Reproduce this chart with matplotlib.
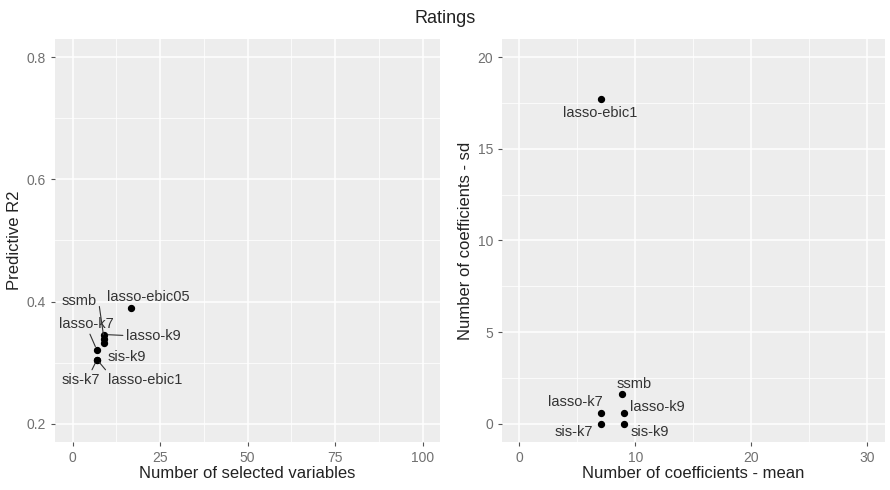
import matplotlib.pyplot as plt
import numpy as np

plt.rcParams['font.family'] = ['Liberation Sans', 'DejaVu Sans']

# левая панель: число отобранных переменных и R2
methods = ["lasso-ebic05", "ssmb", "lasso-k9", "sis-k9", "lasso-k7", "sis-k7", "lasso-ebic1"]
n_selected = [16.6, 9, 9, 9, 7, 7, 7]
pred_r2 = [0.390, 0.339, 0.346, 0.332, 0.320, 0.305, 0.305]

# правая панель: среднее и sd числа коэффициентов
methods2 = ["lasso-ebic1", "ssmb", "lasso-k7", "lasso-k9", "sis-k7", "sis-k9"]
coef_mean = [7.0, 8.85, 7.0, 9.0, 7.0, 9.0]
coef_sd = [17.7, 1.6, 0.6, 0.6, 0.0, 0.0]

# смещения подписей в пикселях, линия, точка крепления линии к подписи
offs_left = {"lasso-ebic05": (18, 11, None), "ssmb": (-25, 38, (1.05, 0.6)),
             "lasso-k9": (49, -1, (0, 0.5)), "sis-k9": (23, -14, None),
             "lasso-k7": (-11, 26, (0.55, 0)), "sis-k7": (-16, -20, (0.75, 1)),
             "lasso-ebic1": (48, -20, (0.0, 1))}
offs_right = {"lasso-ebic1": (0, -14), "ssmb": (12, 10), "lasso-k7": (-25, 11),
              "lasso-k9": (34, 6), "sis-k7": (-27, -8), "sis-k9": (26, -8)}

txt = "#707070"


def gg(ax, xt, xminor, yt, yminor):
    ax.set_facecolor("#EDEDED")
    for s in ax.spines.values():
        s.set_visible(False)
    ax.set_xticks(xt)
    ax.set_xticks(xminor, minor=True)
    ax.set_yticks(yt)
    ax.set_yticks(yminor, minor=True)
    ax.grid(True, which="major", color="white", lw=1.1)
    ax.grid(True, which="minor", color="white", lw=0.55)
    ax.set_axisbelow(True)
    ax.tick_params(which="major", length=3, color="#555555", labelsize=10, labelcolor=txt)
    ax.tick_params(which="minor", length=0)


fig = plt.figure(figsize=(8.9, 4.9), dpi=100)
fig.text(0.5, 0.963, "Ratings", ha="center", va="center", fontsize=13, color="#222222")

ax1 = fig.add_axes([0.0618, 0.098, 0.4326, 0.8224])
gg(ax1, [0, 25, 50, 75, 100], [12.5, 37.5, 62.5, 87.5], [0.2, 0.4, 0.6, 0.8], [0.3, 0.5, 0.7])
ax1.set_xlim(-5, 105)
ax1.set_ylim(0.17, 0.83)
ax1.set_yticklabels(["0.2", "0.4", "0.6", "0.8"])
ax1.scatter(n_selected, pred_r2, s=18, color="black", zorder=3)
for m, x, y in zip(methods, n_selected, pred_r2):
    dx, dy, rp = offs_left[m]
    ap = None
    if rp is not None:
        ap = dict(arrowstyle="-", color="#333333", lw=0.8, shrinkA=0, shrinkB=3, relpos=rp)
    ax1.annotate(m, (x, y), xytext=(dx, dy), textcoords="offset pixels",
                 ha="center", va="center", fontsize=10.5, color="#333333", arrowprops=ap)
ax1.set_xlabel("Number of selected variables", fontsize=12, color="#222222", labelpad=1)
ax1.set_ylabel("Predictive R2", fontsize=12, color="#222222", labelpad=3)

ax2 = fig.add_axes([0.564, 0.098, 0.430, 0.8224])
gg(ax2, [0, 10, 20, 30], [5, 15, 25], [0, 5, 10, 15, 20], [2.5, 7.5, 12.5, 17.5])
ax2.set_xlim(-1.5, 31.5)
ax2.set_ylim(-1, 21)
ax2.scatter(coef_mean, coef_sd, s=18, color="black", zorder=3)
for m, x, y in zip(methods2, coef_mean, coef_sd):
    dx, dy = offs_right[m]
    ax2.annotate(m, (x, y), xytext=(dx, dy), textcoords="offset pixels",
                 ha="center", va="center", fontsize=10.5, color="#333333")
ax2.set_xlabel("Number of coefficients - mean", fontsize=12, color="#222222", labelpad=1)
ax2.set_ylabel("Number of coefficients - sd", fontsize=12, color="#222222", labelpad=3)

plt.savefig("out.png", dpi=100)
